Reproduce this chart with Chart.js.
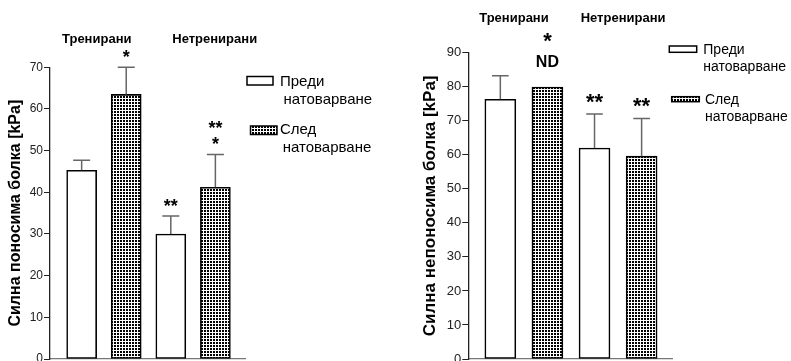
<!DOCTYPE html>
<html><head><meta charset="utf-8">
<script src="https://cdn.jsdelivr.net/npm/chart.js@4/dist/chart.umd.min.js"></script>
<style>html,body{margin:0;padding:0;background:#fff;overflow:hidden}canvas{position:absolute;top:0}</style>
</head><body>
<canvas id="c1" width="395" height="361" style="left:0"></canvas>
<canvas id="c2" width="396" height="361" style="left:395px"></canvas>
<script>
// ---------- data ----------
const groups = ['Тренирани', 'Нетренирани'];
const seriesNames = ['Преди натоварване', 'След натоварване'];

const tolerableTitle = 'Силна поносима болка [kPa]';
const tolerableTicks = [0, 10, 20, 30, 40, 50, 60, 70];
const tolerableBefore = [45.3, 30.0];
const tolerableBeforeErr = [2.4, 4.3];
const tolerableAfter = [63.5, 41.2];
const tolerableAfterErr = [6.5, 7.9];
const tolerableMarks = [[], ['*'], ['**'], ['*', '**']];   // per bar, bottom to top

const intolerableTitle = 'Силна непоносима болка [kPa]';
const intolerableTicks = [0, 10, 20, 30, 40, 50, 60, 70, 80, 90];
const intolerableBefore = [76.3, 62.0];
const intolerableBeforeErr = [6.9, 10.0];
const intolerableAfter = [79.9, 59.6];
const intolerableAfterErr = [null, 11.1];
const intolerableMarks = [[], ['ND', '*'], ['**'], ['**']];

// ---------- styles ----------
const FONT = "'Liberation Sans', Arial, sans-serif";
function dotPattern() {
  const c = document.createElement('canvas'); c.width = 3; c.height = 3;
  const g = c.getContext('2d');
  g.fillStyle = '#fff'; g.fillRect(0, 0, 3, 3);
  g.fillStyle = '#000'; g.fillRect(0, 0, 2, 2);
  return g.createPattern(c, 'repeat');
}
const DOTS = dotPattern();

const overlay = {
  id: 'overlay',
  afterDatasetsDraw(chart, args, o) {
    const ctx = chart.ctx, xs = chart.scales.x, ys = chart.scales.y;
    ctx.save();
    // error bars (upper only)
    ctx.strokeStyle = o.errColor; ctx.lineWidth = o.errWidth;
    chart.data.datasets.forEach(ds => {
      ds.data.forEach((pt, i) => {
        const e = ds.errors[i]; if (e == null) return;
        const x = xs.getPixelForValue(pt.x);
        const y0 = ys.getPixelForValue(pt.y), y1 = ys.getPixelForValue(pt.y + e);
        ctx.beginPath();
        ctx.moveTo(x, y0); ctx.lineTo(x, y1);
        ctx.moveTo(x - o.cap, y1); ctx.lineTo(x + o.cap, y1);
        ctx.stroke();
      });
    });
    // significance marks
    ctx.fillStyle = '#000'; ctx.textAlign = 'center'; ctx.textBaseline = 'alphabetic';
    chart.data.datasets.forEach(ds => {
      ds.data.forEach((pt, i) => {
        const lines = o.marks[pt.x] || [];
        const e = ds.errors[i] || 0;
        const x = xs.getPixelForValue(pt.x);
        let base = ys.getPixelForValue(pt.y + e);
        lines.forEach((ln, k) => {
          const star = /^\*+$/.test(ln);
          if (k === 0) base -= o.markOffset + (star ? 0 : o.textExtra);
          else base -= o.markGap;
          ctx.font = star ? o.starFont : o.textFont;
          ctx.fillText(ln, x, base);
        });
      });
    });
    // group labels
    ctx.font = o.groupFont; ctx.textBaseline = 'middle';
    groups.forEach((g, gi) => {
      const mid = (xs.getPixelForValue(2 * gi) + xs.getPixelForValue(2 * gi + 1)) / 2;
      ctx.fillText(g, mid + o.groupDx[gi], o.groupY);
    });
    // legend
    ctx.textAlign = 'left'; ctx.font = o.legendFont; ctx.fillStyle = '#000';
    chart.data.datasets.forEach((ds, di) => {
      const L = o.legend[di];
      ctx.fillStyle = ds.backgroundColor;
      ctx.fillRect(L.box[0], L.box[1], L.box[2], L.box[3]);
      ctx.strokeStyle = '#000'; ctx.lineWidth = 1.5;
      ctx.strokeRect(L.box[0], L.box[1], L.box[2], L.box[3]);
      ctx.fillStyle = '#000';
      const words = ds.label.split(' ');
      ctx.fillText(words[0], L.t1[0], L.t1[1]);
      ctx.fillText(words.slice(1).join(' '), L.t2[0], L.t2[1]);
    });
    ctx.restore();
  }
};

function build(id, cfg) {
  const mk = (vals, errs, s) => ({
    label: seriesNames[s],
    data: vals.map((v, g) => ({x: 2 * g + s, y: v})),
    errors: errs,
    backgroundColor: s === 0 ? '#fff' : DOTS,
    borderColor: '#000', borderWidth: 1.6, borderSkipped: false,
    barThickness: cfg.barW, grouped: false
  });
  return new Chart(document.getElementById(id), {
    type: 'bar',
    data: {datasets: [mk(cfg.before, cfg.beforeErr, 0), mk(cfg.after, cfg.afterErr, 1)]},
    options: {
      responsive: false, animation: false, devicePixelRatio: 1,
      layout: {padding: {left: 0, right: cfg.padRight, top: cfg.padTop, bottom: 2}},
      plugins: {legend: {display: false}, tooltip: {enabled: false}, overlay: cfg.overlay},
      scales: {
        x: {type: 'linear', min: cfg.xMin, max: cfg.xMax, offset: false, bounds: 'data',
            ticks: {display: false}, grid: {display: false, offset: false},
            border: {display: true, color: '#777', width: 1.3},
            afterFit: s => { s.height = 0; s.paddingLeft = 0; s.paddingRight = 0; }},
        y: {min: 0, max: cfg.ticks[cfg.ticks.length - 1],
            afterBuildTicks: s => { s.ticks = cfg.ticks.map(v => ({value: v})); },
            ticks: {color: '#222', padding: 1, font: {family: FONT, size: cfg.tickSize}},
            grid: {drawOnChartArea: false, drawTicks: true, tickLength: 6, color: '#222', lineWidth: 1},
            border: {display: true, color: '#222', width: 1.3},
            title: {display: true, text: cfg.title, color: '#000',
                    font: {family: FONT, size: cfg.titleSize, weight: 'bold'}, padding: {top: cfg.titlePad}},
            afterFit: s => { s.width = cfg.axisW; s.paddingTop = 0; s.paddingBottom = 0; }}
      }
    },
    plugins: [overlay]
  });
}

build('c1', {
  before: tolerableBefore, beforeErr: tolerableBeforeErr, after: tolerableAfter, afterErr: tolerableAfterErr,
  ticks: tolerableTicks, title: tolerableTitle, tickSize: 12, titleSize: 16, titlePad: 6.4,
  axisW: 50, padRight: 149.3, padTop: 67.3, xMin: -0.71, xMax: 3.68, barW: 30,
  overlay: {
    errColor: '#666', errWidth: 1.5, cap: 8.5, marks: tolerableMarks,
    starFont: 'bold 18px ' + FONT, textFont: 'bold 16px ' + FONT,
    markOffset: 4, textExtra: 15, markGap: 16,
    groupFont: 'bold 13px ' + FONT, groupDx: [-7.2, 21.6], groupY: 39.5,
    legendFont: '15px ' + FONT,
    legend: [{box: [247, 76.5, 26, 8.5], t1: [280, 81.5], t2: [283.5, 99.5]},
             {box: [250.5, 126, 26.5, 8.5], t1: [280, 130], t2: [282.7, 148]}]
  }
});

build('c2', {
  before: intolerableBefore, beforeErr: intolerableBeforeErr, after: intolerableAfter, afterErr: intolerableAfterErr,
  ticks: intolerableTicks, title: intolerableTitle, tickSize: 13, titleSize: 17, titlePad: 24.8,
  axisW: 73.3, padRight: 118.3, padTop: 52.7, xMin: -0.68, xMax: 3.66, barW: 31,
  overlay: {
    errColor: '#666', errWidth: 1.5, cap: 8.3, marks: intolerableMarks,
    starFont: 'bold 22px ' + FONT, textFont: 'bold 16px ' + FONT,
    markOffset: 5, textExtra: 15, markGap: 19.4,
    groupFont: 'bold 13px ' + FONT, groupDx: [-9.9, 5], groupY: 18,
    legendFont: '14px ' + FONT,
    legend: [{box: [274.3, 46, 27.4, 6.3], t1: [308.3, 50], t2: [308.3, 66.7]},
             {box: [276.7, 96.7, 27.6, 5], t1: [310, 100], t2: [310, 116.7]}]
  }
});
</script>
</body></html>
